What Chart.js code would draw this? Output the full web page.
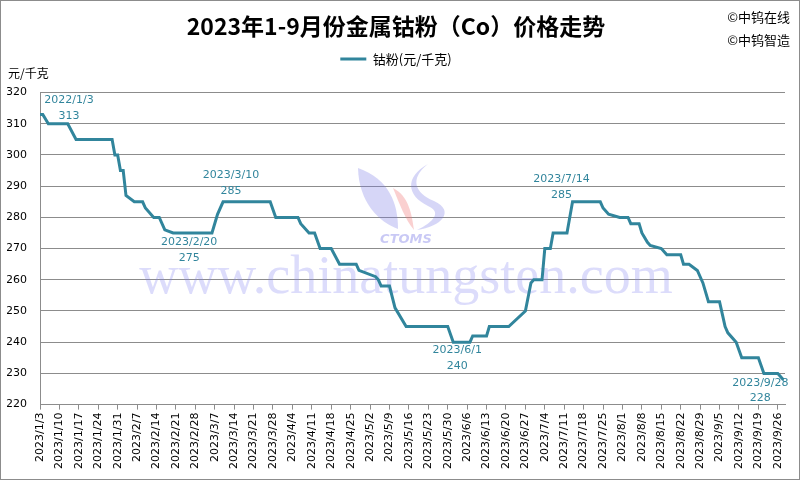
<!DOCTYPE html>
<html>
<head>
<meta charset="utf-8">
<script src="https://cdn.jsdelivr.net/npm/chart.js@4/dist/chart.umd.min.js"></script>
<style>
  html, body { margin: 0; padding: 0; background: #fff; }
  #wrap { width: 798px; height: 478px; border: 1px solid #8c8c8c; }
  canvas { display: block; }
</style>
</head>
<body>
<div id="wrap"><canvas id="chart" width="798" height="478"></canvas></div>
<script>
// 价格转折点
const dates = [
    '2023/1/3', '2023/1/4', '2023/1/6', '2023/1/13', '2023/1/16', '2023/1/29', '2023/1/30', '2023/1/31',
    '2023/2/1', '2023/2/2', '2023/2/3', '2023/2/6', '2023/2/9', '2023/2/10', '2023/2/13', '2023/2/15',
    '2023/2/17', '2023/2/20', '2023/3/6', '2023/3/8', '2023/3/10', '2023/3/27', '2023/3/29', '2023/4/6',
    '2023/4/7', '2023/4/10', '2023/4/12', '2023/4/14', '2023/4/18', '2023/4/21', '2023/4/27', '2023/4/28',
    '2023/5/4', '2023/5/5', '2023/5/6', '2023/5/9', '2023/5/11', '2023/5/15', '2023/5/30', '2023/6/1',
    '2023/6/7', '2023/6/8', '2023/6/13', '2023/6/14', '2023/6/21', '2023/6/27', '2023/6/29', '2023/6/30',
    '2023/7/3', '2023/7/4', '2023/7/6', '2023/7/7', '2023/7/12', '2023/7/14', '2023/7/24', '2023/7/25',
    '2023/7/27', '2023/7/31', '2023/8/3', '2023/8/4', '2023/8/7', '2023/8/8', '2023/8/10', '2023/8/11',
    '2023/8/15', '2023/8/17', '2023/8/22', '2023/8/23', '2023/8/25', '2023/8/28', '2023/8/30', '2023/9/1',
    '2023/9/5', '2023/9/6', '2023/9/7', '2023/9/8', '2023/9/11', '2023/9/13', '2023/9/19', '2023/9/21',
    '2023/9/26', '2023/9/28'
];
const prices = [
    313, 313, 310, 310, 305, 305, 300, 300,
    295, 295, 287, 285, 285, 283, 280, 280,
    276, 275, 275, 281, 285, 285, 280, 280,
    278, 275, 275, 270, 270, 265, 265, 263,
    261, 260, 258, 258, 251, 245, 245, 240,
    240, 242, 242, 245, 245, 250, 259, 260,
    260, 270, 270, 275, 275, 285, 285, 283,
    281, 280, 280, 278, 278, 275, 272, 271,
    270, 268, 268, 265, 265, 263, 259, 253,
    253, 249, 245, 243, 240, 235, 235, 230,
    230, 228
];

// 标注
const calloutDates = ['2023/1/3', '2023/2/20', '2023/3/10', '2023/6/1', '2023/7/14', '2023/9/28'];
const calloutTexts = ['2022/1/3', '2023/2/20', '2023/3/10', '2023/6/1', '2023/7/14', '2023/9/28'];
const calloutValues = [313, 275, 285, 240, 285, 228];

const yTicks = [220, 230, 240, 250, 260, 270, 280, 290, 300, 310, 320];
const startDate = '2023/1/3';
const endDate = '2023/9/28';
const tickStepDays = 7;

const LINE_COLOR = '#31859C';
const GRID_COLOR = '#8c8c8c';
const NUM_FONT = "'DejaVu Sans', sans-serif";
const CJK_FONT = "'Noto Sans CJK SC', sans-serif";

// 日期 <-> 天数
function toUTC(str) {
    const p = str.split('/').map(Number);
    return Date.UTC(p[0], p[1] - 1, p[2]);
}
function dayOf(str) {
    return Math.round((toUTC(str) - toUTC(startDate)) / 86400000);
}
function labelOf(day) {
    const d = new Date(toUTC(startDate) + day * 86400000);
    return d.getUTCFullYear() + '/' + (d.getUTCMonth() + 1) + '/' + d.getUTCDate();
}

const points = dates.map((d, i) => ({ x: dayOf(d), y: prices[i] }));

// 标注位置偏移（像素）
const calloutOffsets = [
    { dx: 29, dy1: -14, dy2: 2 },
    { dx: 16, dy1: 9, dy2: 25 },
    { dx: 8, dy1: -27, dy2: -11 },
    { dx: 4, dy1: 8, dy2: 24 },
    { dx: -11, dy1: -23, dy2: -7 },
    { dx: -23, dy1: 4, dy2: 19 }
];

// 图例下方留白
const legendGap = {
    id: 'legendGap',
    beforeInit(chart) {
        const fit = chart.legend.fit;
        chart.legend.fit = function () {
            fit.bind(chart.legend)();
            this.height += 17;
        };
    }
};

const decorPlugin = {
    id: 'decor',
    beforeDatasetsDraw(chart) {
        const ctx = chart.ctx;
        ctx.save();
        // 水印 logo
        ctx.fillStyle = 'rgba(120,120,230,0.30)';
        ctx.beginPath();
        ctx.moveTo(357, 167);
        ctx.bezierCurveTo(358, 202, 378, 221, 397, 228);
        ctx.bezierCurveTo(397, 202, 388, 178, 357, 167);
        ctx.fill();
        ctx.beginPath();
        ctx.moveTo(427, 163);
        ctx.bezierCurveTo(408, 178, 414, 192, 433, 200);
        ctx.bezierCurveTo(455, 210, 440, 226, 416, 229);
        ctx.bezierCurveTo(433, 221, 441, 211, 427, 205);
        ctx.bezierCurveTo(405, 194, 404, 176, 427, 163);
        ctx.fill();
        ctx.fillStyle = 'rgba(240,120,120,0.35)';
        ctx.beginPath();
        ctx.moveTo(392, 187);
        ctx.bezierCurveTo(408, 195, 411, 214, 413, 229);
        ctx.bezierCurveTo(404, 218, 399, 204, 392, 187);
        ctx.fill();
        ctx.fillStyle = 'rgba(120,120,230,0.40)';
        ctx.font = "italic bold 13px 'DejaVu Sans', sans-serif";
        ctx.textAlign = 'center';
        ctx.textBaseline = 'middle';
        ctx.fillText('CTOMS', 405, 239);
        // 水印网址
        ctx.fillStyle = 'rgba(130,130,240,0.28)';
        ctx.font = "54px 'Liberation Serif', serif";
        ctx.textBaseline = 'alphabetic';
        ctx.fillText('www.chinatungsten.com', 405, 292);
        ctx.restore();
    },
    afterDraw(chart) {
        const ctx = chart.ctx;
        const xs = chart.scales.x;
        const ys = chart.scales.y;
        ctx.save();
        ctx.fillStyle = '#000';
        ctx.textBaseline = 'middle';
        ctx.font = '12px ' + CJK_FONT;
        ctx.textAlign = 'left';
        ctx.fillText('元/千克', 7, 72);
        ctx.font = '13px ' + CJK_FONT;
        ctx.textAlign = 'right';
        ctx.fillText('©中钨在线', 789, 16);
        ctx.fillText('©中钨智造', 789, 39);

        ctx.fillStyle = LINE_COLOR;
        ctx.font = '11px ' + NUM_FONT;
        ctx.textAlign = 'center';
        calloutDates.forEach((d, i) => {
            const px = xs.getPixelForValue(dayOf(d));
            const py = ys.getPixelForValue(calloutValues[i]);
            const o = calloutOffsets[i];
            ctx.fillText(calloutTexts[i], px + o.dx, py + o.dy1);
            ctx.fillText(String(calloutValues[i]), px + o.dx, py + o.dy2);
        });
        ctx.restore();
    }
};

new Chart(document.getElementById('chart').getContext('2d'), {
    type: 'line',
    data: {
        datasets: [{
            label: '钴粉(元/千克)',
            data: points,
            borderColor: LINE_COLOR,
            backgroundColor: LINE_COLOR,
            borderWidth: 3,
            pointRadius: 0,
            pointStyle: 'line',
            tension: 0
        }]
    },
    options: {
        responsive: false,
        animation: false,
        layout: { padding: { left: 6, right: 14, top: 0, bottom: 7 } },
        plugins: {
            title: {
                display: true,
                text: '2023年1-9月份金属钴粉（Co）价格走势',
                color: '#000',
                font: { family: CJK_FONT, size: 23, weight: 'bold' },
                padding: { top: 11, bottom: 5 }
            },
            legend: {
                labels: {
                    usePointStyle: true,
                    pointStyleWidth: 26,
                    color: '#000',
                    font: { family: CJK_FONT, size: 13 },
                    padding: 8
                }
            },
            tooltip: { enabled: false }
        },
        scales: {
            x: {
                type: 'linear',
                min: 0,
                max: dayOf(endDate) + 0.6,
                afterBuildTicks(scale) {
                    scale.ticks = scale.ticks.filter(t => t.value % tickStepDays === 0);
                },
                ticks: {
                    stepSize: tickStepDays,
                    includeBounds: false,
                    autoSkip: false,
                    minRotation: 90,
                    maxRotation: 90,
                    color: '#000',
                    font: { family: NUM_FONT, size: 11 },
                    padding: 3,
                    callback: v => labelOf(v)
                },
                grid: { drawOnChartArea: false, tickLength: 5, color: GRID_COLOR },
                border: { color: GRID_COLOR }
            },
            y: {
                min: yTicks[0],
                max: yTicks[yTicks.length - 1],
                afterBuildTicks(scale) {
                    scale.ticks = yTicks.map(v => ({ value: v }));
                },
                afterFit(scale) { scale.width = 33; },
                ticks: {
                    color: '#000',
                    font: { family: NUM_FONT, size: 11 },
                    padding: 13
                },
                grid: { color: GRID_COLOR, drawTicks: false },
                border: { color: GRID_COLOR }
            }
        }
    },
    plugins: [legendGap, decorPlugin]
});
</script>
</body>
</html>
